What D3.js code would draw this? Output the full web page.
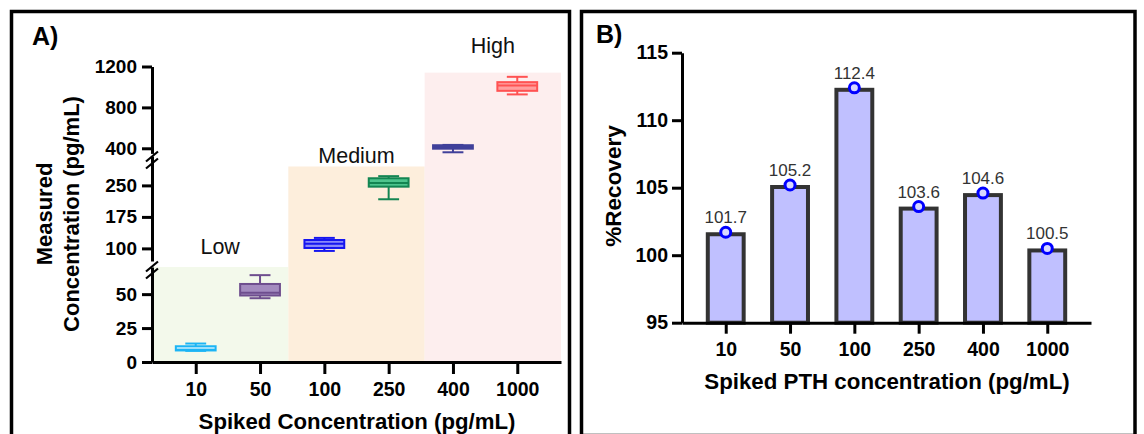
<!DOCTYPE html>
<html>
<head>
<meta charset="utf-8">
<script src="https://cdn.jsdelivr.net/npm/d3@7"></script>
<style>
  body { margin: 0; background: #fff; }
  text { font-family: "Liberation Sans", Arial, sans-serif; }
</style>
</head>
<body>
<svg id="chart" width="1144" height="434"></svg>
<script>
// categories (spiked concentration, pg/mL)
var concentrations = ["10", "50", "100", "250", "400", "1000"];

// panel A box stats (measured pg/mL)
var boxMin    = [8.2, 47, 94, 217, 361, 927];
var boxQ1     = [8.5, 49, 101, 247, 396, 962];
var boxMedian = [9, 51, 111, 256, 412, 1015];
var boxQ3     = [11.6, 57.5, 120, 267, 430, 1047];
var boxMax    = [13.6, 64, 125, 272, 433, 1099];
var boxStroke = ["#1CB5F5", "#6E4E8E", "#1515F0", "#138552", "#40409A", "#FF5252"];
var boxFill   = ["#C8EFFD", "#A38BBF", "#8A8AF8", "#4DC48D", "#5A5AB0", "#FF9E9E"];

// concentration levels (shaded regions)
var levelNames  = ["Low", "Medium", "High"];
var levelTops   = [70, 295, 1140];
var levelColors = ["#F3F9EB", "#FDEEDC", "#FDEEEE"];

// y tick labels per axis segment
var ticksLow  = [0, 25, 50];
var ticksMid  = [100, 175, 250];
var ticksHigh = [400, 800, 1200];

// panel B
var recovery = [101.7, 105.2, 112.4, 103.6, 104.6, 100.5];
var recoveryTicks = [95, 100, 105, 110, 115];

var svg = d3.select("#chart");

// frames
svg.append("rect").attr("x", 11.5).attr("y", 11.5).attr("width", 558).attr("height", 440)
  .attr("fill", "none").attr("stroke", "#000").attr("stroke-width", 3.5);
svg.append("rect").attr("x", 581.5).attr("y", 11.5).attr("width", 553.5).attr("height", 424)
  .attr("fill", "none").attr("stroke", "#000").attr("stroke-width", 3.5);

// ---------- panel A ----------
var xA = d3.scalePoint().domain(concentrations).range([152, 561]).padding(0.68);
var segLow  = d3.scaleLinear().domain([0, 70]).range([362, 267]);
var segMid  = d3.scaleLinear().domain([70, 320]).range([261, 156]);
var segHigh = d3.scaleLinear().domain([350, 1200]).range([153.4, 66.5]);
function yA(v) {
  if (v <= 70) return segLow(v);
  if (v <= 320) return segMid(v);
  return segHigh(v);
}

var a = svg.append("g");

// shaded level regions: thirds of the x range
var third = (xA.range()[1] - xA.range()[0]) / 3;
levelNames.forEach(function (name, i) {
  var x0 = xA.range()[0] + i * third;
  a.append("rect")
    .attr("x", x0).attr("y", yA(levelTops[i]))
    .attr("width", third).attr("height", yA(0) - yA(levelTops[i]))
    .attr("fill", levelColors[i]);
});

var labelGap = [13, 4, 20];
levelNames.forEach(function (name, i) {
  a.append("text")
    .attr("x", xA.range()[0] + (i + 0.5) * third)
    .attr("y", yA(levelTops[i]) - labelGap[i])
    .attr("text-anchor", "middle")
    .attr("font-size", "21.5px")
    .attr("fill", "#111")
    .text(name);
});

// box plots
var boxW = xA.step() * 0.65;
concentrations.forEach(function (c, i) {
  var cx = xA(c);
  var g = a.append("g").attr("stroke", boxStroke[i]).attr("stroke-width", 2);
  // whiskers
  g.append("line").attr("x1", cx).attr("x2", cx).attr("y1", yA(boxMax[i])).attr("y2", yA(boxQ3[i]));
  g.append("line").attr("x1", cx).attr("x2", cx).attr("y1", yA(boxQ1[i])).attr("y2", yA(boxMin[i]));
  g.append("line").attr("x1", cx - boxW / 4).attr("x2", cx + boxW / 4).attr("y1", yA(boxMax[i])).attr("y2", yA(boxMax[i]));
  g.append("line").attr("x1", cx - boxW / 4).attr("x2", cx + boxW / 4).attr("y1", yA(boxMin[i])).attr("y2", yA(boxMin[i]));
  // box
  g.append("rect")
    .attr("x", cx - boxW / 2 + 1).attr("y", yA(boxQ3[i]))
    .attr("width", boxW - 2).attr("height", yA(boxQ1[i]) - yA(boxQ3[i]))
    .attr("fill", boxFill[i]);
  g.append("line").attr("x1", cx - boxW / 2 + 1).attr("x2", cx + boxW / 2 - 1)
    .attr("y1", yA(boxMedian[i])).attr("y2", yA(boxMedian[i]));
});

function styleAxis(sel, size) {
  sel.selectAll("path, line").attr("stroke", "#000").attr("stroke-width", 3);
  sel.selectAll("text").attr("font-size", size).attr("font-weight", "bold").attr("fill", "#000")
    .attr("font-family", "'Liberation Sans', Arial, sans-serif");
}

// x axis A
var xAxisA = a.append("g").attr("transform", "translate(0," + yA(0) + ")")
  .call(d3.axisBottom(xA).tickSize(12).tickSizeOuter(0).tickPadding(8));
styleAxis(xAxisA, "19.5px");

// y axis A, one per segment
[[segLow, ticksLow], [segMid, ticksMid], [segHigh, ticksHigh]].forEach(function (s) {
  var ax = a.append("g").attr("transform", "translate(152,0)")
    .call(d3.axisLeft(s[0]).tickValues(s[1]).tickFormat(d3.format("d"))
      .tickSize(10).tickSizeOuter(0).tickPadding(5));
  styleAxis(ax, "19px");
});

// axis break marks
[160, 270].forEach(function (by) {
  [-3.5, 3.5].forEach(function (dy) {
    a.append("line")
      .attr("x1", 146).attr("y1", by + dy + 5)
      .attr("x2", 158).attr("y2", by + dy - 5)
      .attr("stroke", "#000").attr("stroke-width", 2.2);
  });
});

a.append("text").attr("x", 32).attr("y", 45)
  .attr("font-size", "25px").attr("font-weight", "bold").text("A)");

a.append("text").attr("x", 357).attr("y", 428.5).attr("text-anchor", "middle")
  .attr("font-size", "22.2px").attr("font-weight", "bold")
  .text("Spiked Concentration (pg/mL)");

a.append("text").attr("transform", "translate(52,214) rotate(-90)")
  .attr("text-anchor", "middle").attr("font-size", "22px").attr("font-weight", "bold")
  .text("Measured");
a.append("text").attr("transform", "translate(78.5,214) rotate(-90)")
  .attr("text-anchor", "middle").attr("font-size", "22px").attr("font-weight", "bold")
  .text("Concentration (pg/mL)");

// ---------- panel B ----------
var xB = d3.scalePoint().domain(concentrations).range([682, 1091]).padding(0.68);
var yB = d3.scaleLinear().domain([95, 115]).range([322.7, 52.7]);
var b = svg.append("g");

var barW = xB.step() * 0.62;
var inset = 2;
b.selectAll("rect.bar")
  .data(recovery)
  .enter().append("rect")
  .attr("class", "bar")
  .attr("x", function (d, i) { return xB(concentrations[i]) - barW / 2 + inset; })
  .attr("y", function (d) { return yB(d) + inset; })
  .attr("width", barW - 2 * inset)
  .attr("height", function (d) { return yB(95) - yB(d) - inset; })
  .attr("fill", "#C0C0FF")
  .attr("stroke", "#333")
  .attr("stroke-width", 4);

var xAxisB = b.append("g").attr("transform", "translate(0," + yB(95) + ")")
  .call(d3.axisBottom(xB).tickSize(11).tickSizeOuter(0).tickPadding(8));
styleAxis(xAxisB, "19.5px");

var yAxisB = b.append("g").attr("transform", "translate(682,0)")
  .call(d3.axisLeft(yB).tickValues(recoveryTicks).tickSize(10).tickSizeOuter(0).tickPadding(4));
styleAxis(yAxisB, "19.5px");

b.selectAll("circle.pt")
  .data(recovery)
  .enter().append("circle")
  .attr("class", "pt")
  .attr("cx", function (d, i) { return xB(concentrations[i]); })
  .attr("cy", function (d) { return yB(d); })
  .attr("r", 5)
  .attr("fill", "#D8D8FF")
  .attr("stroke", "#0000FF")
  .attr("stroke-width", 3);

b.selectAll("text.val")
  .data(recovery)
  .enter().append("text")
  .attr("class", "val")
  .attr("x", function (d, i) { return xB(concentrations[i]); })
  .attr("y", function (d) { return yB(d) - 9; })
  .attr("text-anchor", "middle")
  .attr("font-size", "17px")
  .attr("fill", "#333")
  .text(function (d) { return d.toFixed(1); });

b.append("text").attr("x", 596).attr("y", 43)
  .attr("font-size", "25px").attr("font-weight", "bold").text("B)");

b.append("text").attr("x", 887).attr("y", 389).attr("text-anchor", "middle")
  .attr("font-size", "22.3px").attr("font-weight", "bold")
  .text("Spiked PTH concentration (pg/mL)");

b.append("text").attr("transform", "translate(621,186) rotate(-90)")
  .attr("text-anchor", "middle").attr("font-size", "22.5px").attr("font-weight", "bold")
  .text("%Recovery");
</script>
</body>
</html>
